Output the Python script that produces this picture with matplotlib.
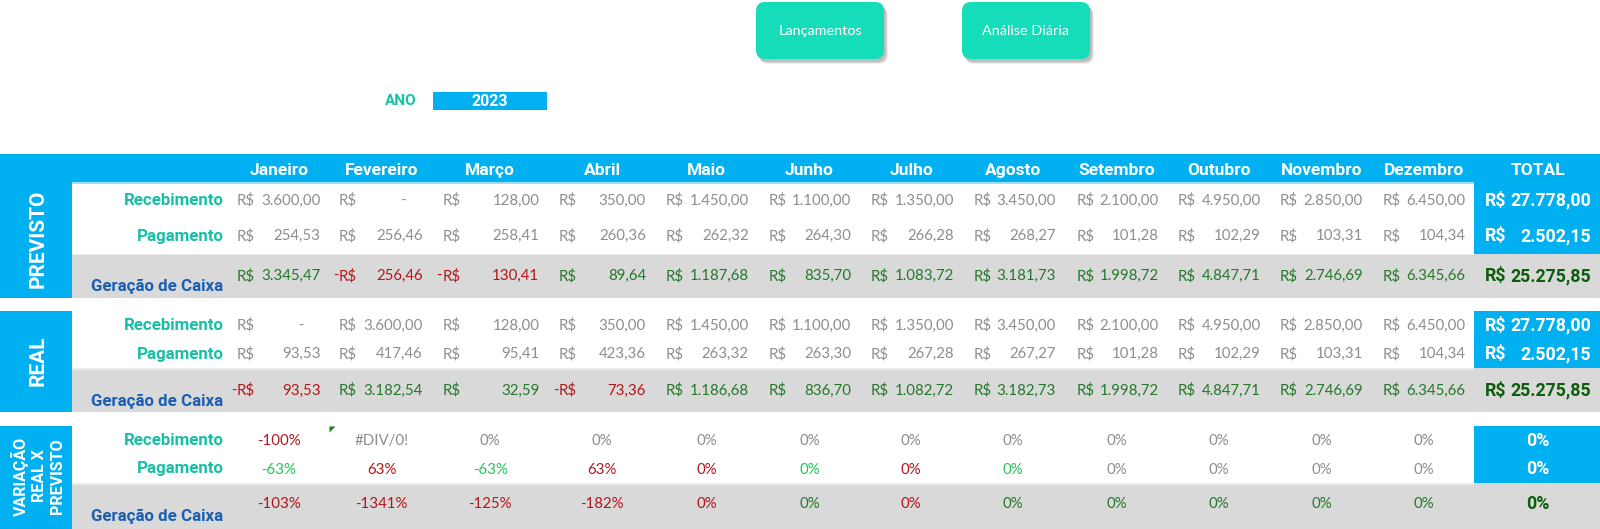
import matplotlib
matplotlib.use("Agg")
import matplotlib.pyplot as plt
from matplotlib.patches import Rectangle, FancyBboxPatch, Polygon

# ---------------- data ----------------
months = ["Janeiro", "Fevereiro", "Março", "Abril", "Maio", "Junho",
          "Julho", "Agosto", "Setembro", "Outubro", "Novembro", "Dezembro"]
total_label = "TOTAL"
row_labels = ["Recebimento", "Pagamento", "Geração de Caixa"]
section_labels = ["PREVISTO", "REAL", "VARIAÇÃO\nREAL X\nPREVISTO"]
button_labels = ["Lançamentos", "Análise Diária"]
year_label = "ANO"
year_value = "2023"

prev_receb = [3600.00, 0.00, 128.00, 350.00, 1450.00, 1100.00,
              1350.00, 3450.00, 2100.00, 4950.00, 2850.00, 6450.00]
prev_pag = [254.53, 256.46, 258.41, 260.36, 262.32, 264.30,
            266.28, 268.27, 101.28, 102.29, 103.31, 104.34]
prev_ger = [3345.47, -256.46, -130.41, 89.64, 1187.68, 835.70,
            1083.72, 3181.73, 1998.72, 4847.71, 2746.69, 6345.66]

real_receb = [0.00, 3600.00, 128.00, 350.00, 1450.00, 1100.00,
              1350.00, 3450.00, 2100.00, 4950.00, 2850.00, 6450.00]
real_pag = [93.53, 417.46, 95.41, 423.36, 263.32, 263.30,
            267.28, 267.27, 101.28, 102.29, 103.31, 104.34]
real_ger = [-93.53, 3182.54, 32.59, -73.36, 1186.68, 836.70,
            1082.72, 3182.73, 1998.72, 4847.71, 2746.69, 6345.66]

var_receb = [-100, None, 0, 0, 0, 0, 0, 0, 0, 0, 0, 0]      # None = #DIV/0!
var_pag = [-63, 63, -63, 63, 0, 0, 0, 0, 0, 0, 0, 0]
var_ger = [-103, -1341, -125, -182, 0, 0, 0, 0, 0, 0, 0, 0]

tot_prev = [27778.00, 2502.15, 25275.85]
tot_real = [27778.00, 2502.15, 25275.85]
tot_var = [0, 0, 0]

# ---------------- style / layout ----------------
W, H = 1600, 529
BLUE = "#00B0F0"
TEAL = "#17BFA6"
DARKBLUE = "#1A5FB4"
GRAYTXT = "#8E8E8E"
BAND = "#D9D9D9"
GREEN = "#23792A"
DKGREEN = "#0B5D0B"
RED = "#B4161B"
LTGREEN = "#22C55E"
BTN = "#16DDB9"

VAL_FONT = "Lato"
BOLD_FONT = "Roboto"
VAL_SIZE = 10.8

rs_left = [236.7, 339, 442.3, 559, 666, 768.3, 870.7, 973.3, 1077, 1177.3, 1280, 1382.3]
num_right = [320.7, 422.7, 539.3, 646, 748.7, 851.3, 954, 1056, 1158.7, 1261, 1362.7, 1465.7]
col_center = [279, 381.5, 490.3, 602, 706.7, 809.5, 911.3, 1013.3, 1117, 1218.5, 1321.7, 1423.7]
tot_left, tot_right, tot_center = 1485, 1591, 1538
label_right = 223.3

fig = plt.figure(figsize=(W / 100, H / 100), dpi=100)
ax = fig.add_axes([0, 0, 1, 1])
ax.set_xlim(0, W)
ax.set_ylim(H, 0)
ax.axis("off")


def rect(x0, y0, x1, y1, color, z=1, **kw):
    ax.add_patch(Rectangle((x0, y0), x1 - x0, y1 - y0, facecolor=color,
                           edgecolor="none", zorder=z, **kw))


def fmt_br(v):
    s = f"{abs(v):,.2f}"
    return s.replace(",", "X").replace(".", ",").replace("X", ".")


def money(xl, xr, y, v, color, bold=False, size=VAL_SIZE, font=VAL_FONT):
    kw = dict(color=color, fontsize=size, family=font, va="center", zorder=5,
              fontweight="bold" if bold else "normal")
    ax.text(xl, y, "R$", ha="left", **kw)
    if v < 0:
        ax.text(xl - 0.5, y, "-", ha="right", **kw)
    if v == 0:
        ax.text(xr - 20, y, "-", ha="center", **kw)
    else:
        ax.text(xr, y, fmt_br(v), ha="right", **kw)


# ---------------- buttons ----------------
for (x0, x1), lab in zip([(756, 884), (962, 1090)], button_labels):
    for k, a in [(5, 0.10), (4, 0.15), (3, 0.22)]:
        ax.add_patch(FancyBboxPatch((x0 + k - 1, 2 + k), x1 - x0, 57,
                                    boxstyle="round,pad=0,rounding_size=9",
                                    facecolor="#606060", edgecolor="none",
                                    alpha=a, zorder=2))
    ax.add_patch(FancyBboxPatch((x0, 2), x1 - x0, 57,
                                boxstyle="round,pad=0,rounding_size=9",
                                facecolor=BTN, edgecolor="none", zorder=3))
    ax.text((x0 + x1) / 2, 31, lab, ha="center", va="center", color="white",
            fontsize=10.4, family=VAL_FONT, zorder=4)

# ---------------- year selector ----------------
ax.text(401, 101, year_label, ha="center", va="center", color=TEAL,
        fontsize=11, family=BOLD_FONT, fontweight="bold")
rect(433, 92, 547, 110, BLUE)
ax.text(490, 101, year_value, ha="center", va="center", color="white",
        fontsize=11.5, family=BOLD_FONT, fontweight="bold", zorder=5)

# ---------------- backgrounds ----------------
rect(0, 154, W, 182.3, BLUE)
rect(72, 182.3, 1474, 183.5, "#9FDDF5", z=2)
blocks = [(154, 298), (311, 412.3), (425.5, H)]
for y0, y1 in blocks:
    rect(0, y0, 72, y1, BLUE)
bands = [(254, 298), (368.3, 412.3), (483.3, H)]
for y0, y1 in bands:
    rect(72, y0, W, y1, BAND)
    rect(72, y0, 1474, y0 + 1.2, "#EBEBEB", z=2)
tot_blocks = [(182, 254), (310.7, 368.3), (425.5, 483.3)]
for y0, y1 in tot_blocks:
    rect(1474, y0, W, y1, BLUE)

# ---------------- section labels ----------------
ax.text(38, 239, section_labels[0], rotation=90, ha="center", va="center",
        color="white", fontsize=15, family=BOLD_FONT, fontweight="bold")
ax.text(38, 361, section_labels[1], rotation=90, ha="center", va="center",
        color="white", fontsize=15, family=BOLD_FONT, fontweight="bold")
ax.text(38, 476, section_labels[2], rotation=90, ha="center", va="center",
        color="white", fontsize=11.5, family=BOLD_FONT, fontweight="bold",
        multialignment="center", linespacing=1.25)

# ---------------- header ----------------
for m, cx in zip(months, col_center):
    ax.text(cx, 170.7, m, ha="center", va="center", color="white",
            fontsize=12.5, family=BOLD_FONT, fontweight="bold", zorder=5)
ax.text(tot_center, 170.7, total_label, ha="center", va="center", color="white",
        fontsize=12.5, family=BOLD_FONT, fontweight="bold", zorder=5)

# ---------------- row labels ----------------
label_rows = [(200.7, 236, 286.7), (325.7, 354, 401.7), (440.5, 469, 516.7)]
for ys in label_rows:
    for y, lab, col in zip(ys, row_labels, [TEAL, TEAL, DARKBLUE]):
        ax.text(label_right, y, lab, ha="right", va="center", color=col,
                fontsize=12.2, family=BOLD_FONT, fontweight="bold", zorder=5)

# ---------------- money sections ----------------
sections = [
    ((200.7, 236, 276), (prev_receb, prev_pag, prev_ger), tot_prev),
    ((325.7, 354, 390.5), (real_receb, real_pag, real_ger), tot_real),
]
for ys, series, tots in sections:
    for i in range(12):
        money(rs_left[i], num_right[i], ys[0], series[0][i], GRAYTXT)
        money(rs_left[i], num_right[i], ys[1], series[1][i], GRAYTXT)
        g = series[2][i]
        money(rs_left[i], num_right[i], ys[2], g, GREEN if g >= 0 else RED)
    money(tot_left, tot_right, ys[0], tots[0], "white", bold=True,
          size=12.8, font=BOLD_FONT)
    money(tot_left, tot_right, ys[1], tots[1], "white", bold=True,
          size=12.8, font=BOLD_FONT)
    money(tot_left, tot_right, ys[2], tots[2], DKGREEN, bold=True,
          size=12.8, font=BOLD_FONT)

# ---------------- variation section ----------------
vy = (441, 469.5, 504)


def sgn(real, prev):
    if prev == 0:
        return None
    d = (real - prev) / prev
    return 0 if abs(d) < 1e-12 else (1 if d > 0 else -1)


for i in range(12):
    s = sgn(real_receb[i], prev_receb[i])
    txt = "#DIV/0!" if var_receb[i] is None else f"{var_receb[i]}%"
    col = RED if s == -1 else GRAYTXT
    ax.text(col_center[i], vy[0], txt, ha="center", va="center", color=col,
            fontsize=VAL_SIZE, family=VAL_FONT, zorder=5)

    s = sgn(real_pag[i], prev_pag[i])
    col = RED if s == 1 else (LTGREEN if s == -1 else GRAYTXT)
    ax.text(col_center[i], vy[1], f"{var_pag[i]}%", ha="center", va="center",
            color=col, fontsize=VAL_SIZE, family=VAL_FONT, zorder=5)

    s = sgn(real_ger[i], prev_ger[i])
    col = RED if s == -1 else GREEN
    ax.text(col_center[i], vy[2], f"{var_ger[i]}%", ha="center", va="center",
            color=col, fontsize=VAL_SIZE, family=VAL_FONT, zorder=5)

for y, v, col in zip(vy, tot_var, ["white", "white", DKGREEN]):
    ax.text(tot_center, y, f"{v}%", ha="center", va="center", color=col,
            fontsize=12.8, family=BOLD_FONT, fontweight="bold", zorder=5)

# error indicator triangle (#DIV/0! cell)
ax.add_patch(Polygon([[329.5, 426.5], [335.5, 426.5], [329.5, 432.5]],
                     closed=True, facecolor="#1E7B1E", edgecolor="none", zorder=6))

fig.savefig("out.png", dpi=100)
